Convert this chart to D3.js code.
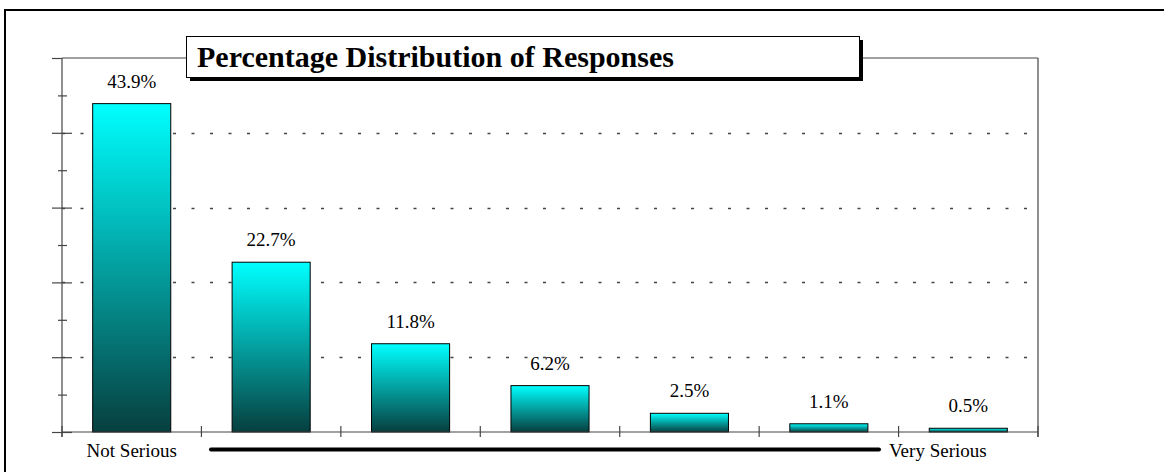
<!DOCTYPE html>
<html>
<head>
<meta charset="utf-8">
<script src="https://cdn.jsdelivr.net/npm/d3@7"></script>
<style>
  html, body { margin: 0; padding: 0; background: #fff; }
  svg { display: block; }
  text { font-family: "Liberation Serif", "Times New Roman", serif; }
</style>
</head>
<body>
<svg id="chart" width="1164" height="472"></svg>
<script>
// ---- data ----
const categories = ["1", "2", "3", "4", "5", "6", "7"];
const values = [43.9, 22.7, 11.8, 6.2, 2.5, 1.1, 0.5];
const valueLabels = ["43.9%", "22.7%", "11.8%", "6.2%", "2.5%", "1.1%", "0.5%"];
const endLabels = ["Not Serious", "Very Serious"];
const majorTicks = [0, 10, 20, 30, 40, 50];
const minorTicks = [5, 15, 25, 35, 45];
const gridValues = [10, 20, 30, 40];
const title = "Percentage Distribution of Responses";

const svg = d3.select("#chart");
const plotLeft = 62, plotRight = 1038, plotTop = 58, plotBottom = 432;
const axisColor = "#454545";

const x = d3.scaleBand().domain(categories).range([plotLeft, plotRight])
  .paddingInner(0.44).paddingOuter(0.22);
const y = d3.scaleLinear().domain([0, 50]).range([plotBottom, plotTop]);

// outer border (extends past the window)
svg.append("rect").attr("x", 5).attr("y", 10).attr("width", 1300).attr("height", 600)
  .attr("fill", "none").attr("stroke", "#000").attr("stroke-width", 2);

// gradient
const defs = svg.append("defs");
const grad = defs.append("linearGradient").attr("id", "barGrad")
  .attr("x1", 0).attr("y1", 0).attr("x2", 0).attr("y2", 1);
grad.append("stop").attr("offset", "0%").attr("stop-color", "#00ffff");
grad.append("stop").attr("offset", "100%").attr("stop-color", "#073f3f");

// gridlines
svg.append("g").selectAll("line").data(gridValues).join("line")
  .attr("x1", plotLeft).attr("x2", plotRight)
  .attr("y1", d => Math.round(y(d)) + 0.5).attr("y2", d => Math.round(y(d)) + 0.5)
  .attr("stroke", "#444").attr("stroke-width", 1.6)
  .attr("stroke-dasharray", "3,15.5");

// frame: top and right lines
svg.append("line").attr("x1", plotLeft).attr("x2", plotRight).attr("y1", plotTop).attr("y2", plotTop)
  .attr("stroke", axisColor).attr("stroke-width", 1.2);
svg.append("line").attr("x1", plotRight).attr("x2", plotRight).attr("y1", plotTop).attr("y2", plotBottom + 5)
  .attr("stroke", axisColor).attr("stroke-width", 1.2);

// y axis ticks via d3 axes
function styleAxis(g) {
  g.select(".domain").remove();
  g.selectAll("text").remove();
  g.selectAll("line").attr("stroke", axisColor).attr("stroke-width", 1.2);
}
svg.append("g").attr("transform", `translate(${plotLeft},0)`)
  .call(d3.axisLeft(y).tickValues(majorTicks).tickSize(10)).call(styleAxis);
svg.append("g").attr("transform", `translate(${plotLeft},0)`)
  .call(d3.axisRight(y).tickValues(majorTicks.filter(d => d !== 50)).tickSize(10)).call(styleAxis);
svg.append("g").attr("transform", `translate(${plotLeft},0)`)
  .call(d3.axisLeft(y).tickValues(minorTicks).tickSize(4)).call(styleAxis);
svg.append("g").attr("transform", `translate(${plotLeft},0)`)
  .call(d3.axisRight(y).tickValues(minorTicks).tickSize(5)).call(styleAxis);

// y axis line
svg.append("line").attr("x1", plotLeft).attr("x2", plotLeft).attr("y1", plotTop).attr("y2", plotBottom + 5)
  .attr("stroke", axisColor).attr("stroke-width", 1.2);

// bars
svg.append("g").selectAll("rect").data(values).join("rect")
  .attr("x", (d, i) => x(categories[i]))
  .attr("y", d => y(d))
  .attr("width", x.bandwidth())
  .attr("height", d => y(0) - y(d))
  .attr("fill", "url(#barGrad)")
  .attr("stroke", "#000").attr("stroke-width", 1);

// baseline
svg.append("line").attr("x1", plotLeft).attr("x2", plotRight).attr("y1", plotBottom).attr("y2", plotBottom)
  .attr("stroke", axisColor).attr("stroke-width", 1.2);

// x ticks at category boundaries
const boundaries = d3.range(categories.length + 1).map(k => plotLeft + k * x.step());
svg.append("g").selectAll("line").data(boundaries).join("line")
  .attr("x1", d => d).attr("x2", d => d)
  .attr("y1", plotBottom - 6).attr("y2", plotBottom + 5)
  .attr("stroke", axisColor).attr("stroke-width", 1.2);

// value labels
svg.append("g").selectAll("text").data(values).join("text")
  .attr("x", (d, i) => x(categories[i]) + x.bandwidth() / 2)
  .attr("y", d => y(d) - 16)
  .attr("text-anchor", "middle")
  .attr("font-size", 19)
  .attr("fill", "#000")
  .text((d, i) => valueLabels[i]);

// end labels
svg.append("text").attr("x", x(categories[0]) + x.bandwidth() / 2).attr("y", 457)
  .attr("text-anchor", "middle").attr("font-size", 19).text(endLabels[0]);
svg.append("text").attr("x", 889).attr("y", 457)
  .attr("text-anchor", "start").attr("font-size", 19).text(endLabels[1]);
svg.append("line").attr("x1", 211).attr("x2", 879).attr("y1", 449.5).attr("y2", 449.5)
  .attr("stroke", "#000").attr("stroke-width", 4).attr("stroke-linecap", "round");

// title box with shadow
svg.append("rect").attr("x", 190).attr("y", 40).attr("width", 673).attr("height", 41)
  .attr("fill", "#000");
svg.append("rect").attr("x", 186.5).attr("y", 36.5).attr("width", 673).attr("height", 41)
  .attr("fill", "#fff").attr("stroke", "#000").attr("stroke-width", 1);
svg.append("text").attr("x", 197).attr("y", 67)
  .attr("font-size", 30).attr("font-weight", "bold").text(title);
</script>
</body>
</html>
